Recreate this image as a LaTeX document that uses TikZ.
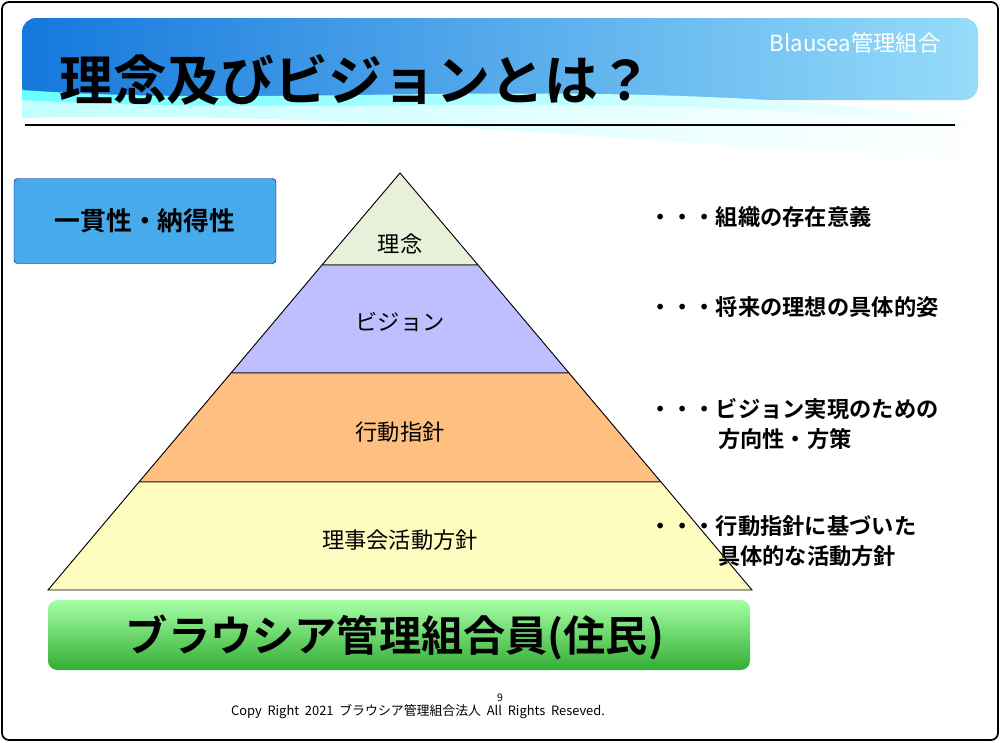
\documentclass[tikz,border=0pt]{standalone}
\usepackage{fontspec}
\setmainfont{Noto Sans CJK JP}[BoldFont=* Bold]
\newcommand\jpb{\bfseries}
\definecolor{scrollc}{RGB}{70,170,235}
\definecolor{hdA}{RGB}{20,120,220}
\definecolor{hdB}{RGB}{150,220,250}
\begin{document}
\begin{tikzpicture}[x=0.03cm,y=-0.03cm,
  lay/.style={draw=black,line width=0.8pt},
  lab/.style={font=\fontsize{19}{22}\selectfont},
  note/.style={font=\jpb\fontsize{19}{25}\selectfont,anchor=west,align=left}]
\useasboundingbox (0,0) rectangle (1000,742);
\fill[white] (0,0) rectangle (1000,742);
\draw[line width=1.5pt,rounded corners=6] (2,2) rectangle (998,740);
% header
\shade[left color=hdA, right color=hdB, rounded corners=12]
  (22,18) -- (978,18) -- (978,100) -- (22,100) -- cycle;
\shade[left color=cyan!60, right color=white] (22,90) .. controls (300,110) and (600,70) .. (978,120) -- (978,160) .. controls (700,150) and (400,110) .. (22,118) -- cycle;
\fill[white,opacity=0.6] (22,100) .. controls (350,118) and (650,85) .. (978,130) -- (978,165) .. controls (700,150) and (400,115) .. (22,125) -- cycle;
\node[font=\jpb\fontsize{46}{50}\selectfont,anchor=west] (title) at (55,80) {理念及びビジョンとは？};
\node[font=\fontsize{19}{22}\selectfont,text=white] (org) at (855,43) {Blausea管理組合};
\draw[line width=1pt] (25,125) -- (955,125);
% scroll
\node[draw=blue!60!black,fill=scrollc,rounded corners=3,minimum width=262*0.03cm,minimum height=85*0.03cm,font=\jpb\fontsize{22}{25}\selectfont] (scroll) at (145,221) {一貫性・納得性};
% pyramid
\filldraw[lay,fill=green!20!olive!15!white] (400,173) -- (478,265) -- (322,265) -- cycle;
\filldraw[lay,fill=blue!25!white] (322,265) -- (478,265) -- (569,373) -- (231,373) -- cycle;
\filldraw[lay,fill=orange!50!white] (231,373) -- (569,373) -- (661,482) -- (139,482) -- cycle;
\filldraw[lay,fill=yellow!25!white] (139,482) -- (661,482) -- (752,590) -- (48,590) -- cycle;
\node[lab] (l1) at (400,244) {理念};
\node[lab] (l2) at (400,322) {ビジョン};
\node[lab] (l3) at (400,432) {行動指針};
\node[lab] (l4) at (400,540) {理事会活動方針};
% notes
\node[note] (n1) at (645,217) {・・・組織の存在意義};
\node[note] (n2) at (645,307) {・・・将来の理想の具体的姿};
\node[note] (n3) at (645,424) {・・・ビジョン実現のための\\\hspace{3.1em}方向性・方策};
\node[note] (n4) at (645,541) {・・・行動指針に基づいた\\\hspace{3.1em}具体的な活動方針};
% bottom bar
\shade[top color=green!35!white, bottom color=green!60!black!80, rounded corners=8] (48,600) rectangle (750,670);
\node[font=\jpb\fontsize{36}{40}\selectfont] (res) at (395,637) {ブラウシア管理組合員(住民)};
% footer
\node[font=\fontsize{9}{10}\selectfont] (pg) at (500,698) {9};
\node[font=\fontsize{11}{12}\selectfont] (copy) at (418,712) {Copy\ \ Right\ \ 2021\ \ ブラウシア管理組合法人\ \ All\ \ Rights\ \ Reseved.};
\end{tikzpicture}
\end{document}
